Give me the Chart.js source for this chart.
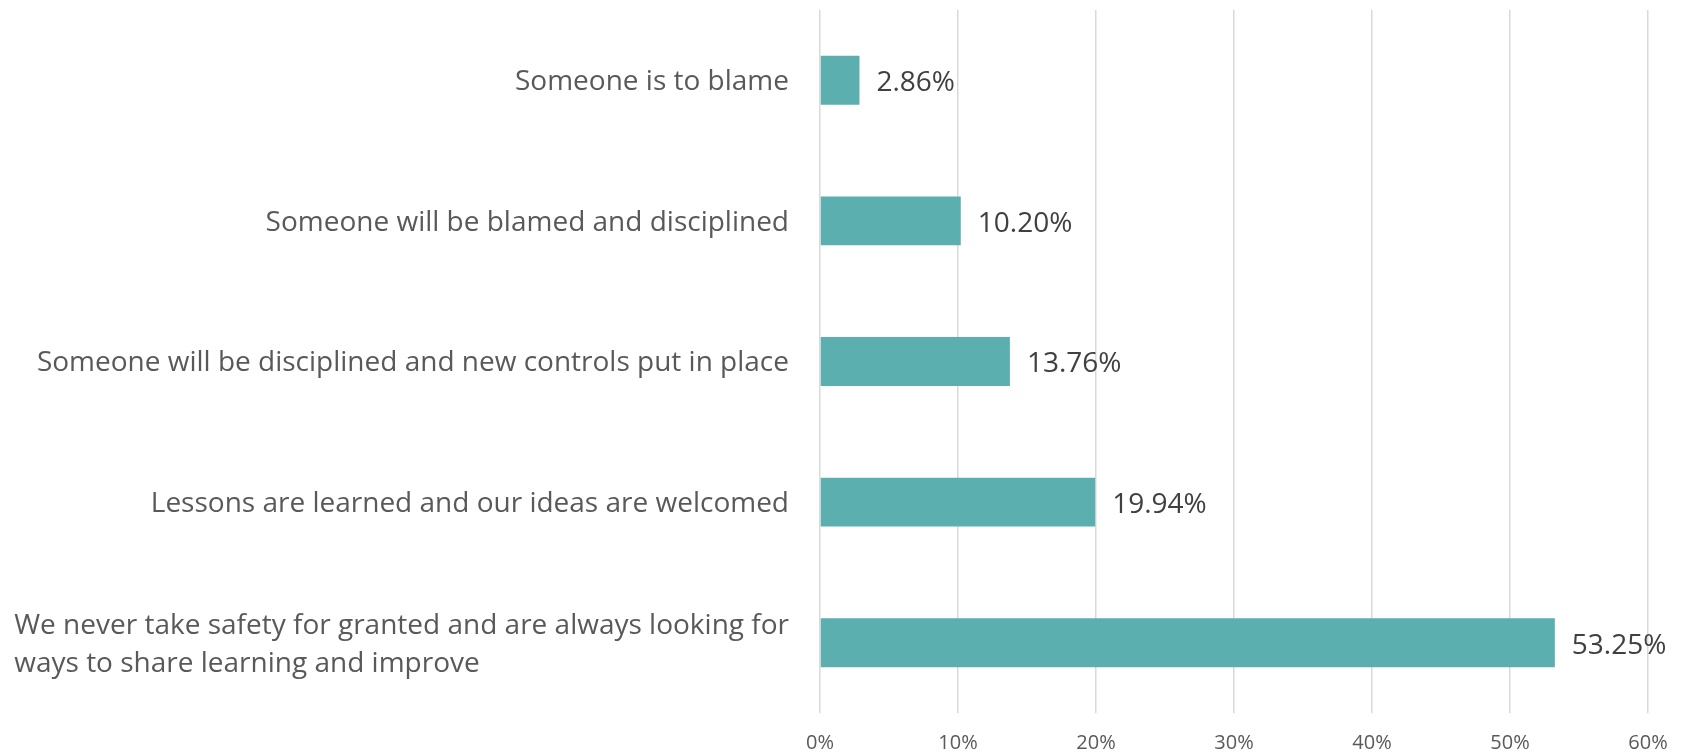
<!DOCTYPE html>
<html>
<head>
<meta charset="utf-8">
<script src="https://cdn.jsdelivr.net/npm/chart.js@4.4.1/dist/chart.umd.min.js"></script>
<style>
  html, body { margin: 0; padding: 0; background: #fff; }
  #wrap { width: 1682px; height: 755px; position: relative; }
</style>
</head>
<body>
<div id="wrap"><canvas id="chart"></canvas></div>
<script>
const categories = [
  ['Someone is to blame'],
  ['Someone will be blamed and disciplined'],
  ['Someone will be disciplined and new controls put in place'],
  ['Lessons are learned and our ideas are welcomed'],
  ['We never take safety for granted and are always looking for', 'ways to share learning and improve'],
];
const shares = [2.86, 10.20, 13.76, 19.94, 53.25];
const tickValues = [0, 10, 20, 30, 40, 50, 60];

const BAR_COLOR = '#5BAFAE';
const LABEL_COLOR = '#595959';
const VALUE_COLOR = '#404040';
const FONT = '"Open Sans", "Noto Sans", sans-serif';

// category names drawn left of the axis, block right-aligned, lines left-aligned
const categoryLabels = {
  id: 'categoryLabels',
  afterDraw(chart) {
    const { ctx, chartArea } = chart;
    const yScale = chart.scales.y;
    const lineHeight = 38;
    ctx.save();
    ctx.font = '28px ' + FONT;
    ctx.fillStyle = LABEL_COLOR;
    ctx.textAlign = 'left';
    ctx.textBaseline = 'middle';
    categories.forEach((lines, i) => {
      const y = yScale.getPixelForTick(i) + 2;
      const blockWidth = Math.max(...lines.map(line => ctx.measureText(line).width));
      const x = chartArea.left - 31 - blockWidth;
      const top = y - (lines.length - 1) * lineHeight / 2;
      lines.forEach((line, j) => ctx.fillText(line, x, top + j * lineHeight));
    });
    ctx.restore();
  },
};

// percentage printed just past the end of each bar
const valueLabels = {
  id: 'valueLabels',
  afterDatasetsDraw(chart) {
    const { ctx } = chart;
    const meta = chart.getDatasetMeta(0);
    ctx.save();
    ctx.font = '28px ' + FONT;
    ctx.fillStyle = VALUE_COLOR;
    ctx.textAlign = 'left';
    ctx.textBaseline = 'middle';
    meta.data.forEach((bar, i) => {
      ctx.fillText(shares[i].toFixed(2) + '%', bar.x + 17, bar.y + 3);
    });
    ctx.restore();
  },
};

new Chart(document.getElementById('chart'), {
  type: 'bar',
  data: {
    labels: categories,
    datasets: [{
      data: shares,
      backgroundColor: BAR_COLOR,
      borderWidth: 0,
      categoryPercentage: 1,
      barPercentage: 0.348,
    }],
  },
  options: {
    indexAxis: 'y',
    responsive: true,
    maintainAspectRatio: false,
    animation: false,
    layout: { padding: { left: 820, right: 34, top: 10, bottom: 0 } },
    plugins: {
      legend: { display: false },
      tooltip: { enabled: false },
    },
    scales: {
      x: {
        min: 0,
        max: 60,
        afterBuildTicks(scale) {
          scale.ticks = tickValues.map(value => ({ value }));
        },
        afterFit(scale) {
          // fixed axis band; the outer padding already leaves room for "60%"
          scale.height = 42;
          scale.paddingLeft = 0;
          scale.paddingRight = 0;
        },
        grid: { color: '#D9D9D9', lineWidth: 1.5, drawTicks: false },
        border: { display: false },
        ticks: {
          color: LABEL_COLOR,
          font: { family: FONT, size: 20 },
          padding: 18,
          maxRotation: 0,
          callback: value => value + '%',
        },
      },
      y: {
        display: false,
      },
    },
  },
  plugins: [categoryLabels, valueLabels],
});
</script>
</body>
</html>
